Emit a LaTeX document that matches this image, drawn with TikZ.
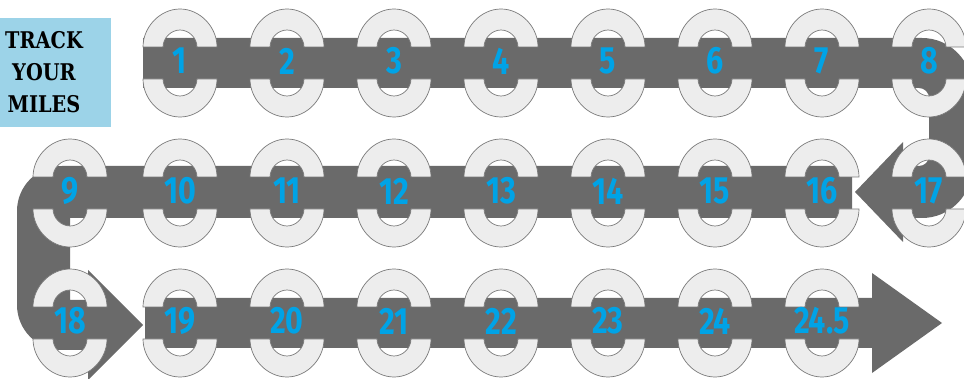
\documentclass[tikz,border=0pt]{standalone}
\usepackage{fontspec}
\newfontfamily\numfont[FakeStretch=0.8]{Fira Sans}
\newfontfamily\slabfont[FakeStretch=0.84]{DejaVu Serif}
\definecolor{bandgray}{HTML}{6A6A6A}
\definecolor{ringfill}{HTML}{EDEDED}
\definecolor{ringline}{HTML}{7A7A7A}
\definecolor{numblue}{HTML}{00A3E6}
\definecolor{boxblue}{HTML}{9CD3E8}
\begin{document}
\begin{tikzpicture}[x=1pt,y=-1pt]
            \tikzset{
                band/.style={fill=bandgray},
                mile/.style={fill=ringfill, draw=ringline, line width=0.7pt},
                num/.style={text=numblue, inner sep=0pt, font=\numfont\bfseries\fontsize{38}{38}\selectfont},
                titlebox/.style={fill=boxblue, minimum width=134pt, minimum height=109pt, inner sep=0pt, align=center, font=\slabfont\bfseries\fontsize{23}{32}\selectfont}
            }
            \useasboundingbox (0,0) rectangle (964,379);
            \node[titlebox] (title) at (44,72.5) {TRACK\\YOUR\\MILES};
            \fill[band] (143,38) -- (922,38) arc[start angle=270, end angle=360, radius=50] -- (972,168) arc[start angle=0, end angle=90, radius=50] -- (903,218) -- (903,242) -- (855,192) -- (903,142) -- (903,166) -- (919,166) arc[start angle=90, end angle=0, radius=10] -- (929,98) arc[start angle=0, end angle=-90, radius=10] -- (143,88) -- cycle;
            \fill[band] (852,166) -- (62,166) arc[start angle=270, end angle=180, radius=45] -- (17,305) arc[start angle=180, end angle=90, radius=45] -- (88,350) -- (88,380) -- (143,325) -- (88,270) -- (88,300) -- (70,300) -- (70,218) -- (852,218) -- cycle;
            \fill[band] (145,298) -- (872,298) -- (872,273) -- (942,323) -- (872,373) -- (872,348) -- (145,348) -- cycle;
            \foreach \x/\y/\n [count=\i] in {%
            180/63/1, 287/63/2, 394/63/3, 501/63/4, 608/63/5, 715/63/6, 822/63/7, 929/63/8,%
            70/193/9, 180/193/10, 287/193/11, 394/193/12, 501/193/13, 608/193/14, 715/193/15, 822/193/16, 929/193/17,%
            70/323/18, 180/323/19, 287/323/20, 394/323/21, 501/323/22, 608/323/23, 715/323/24, 822/323/24.5%
            }{
                \draw[mile] (\x-37,\y-16) .. controls (\x-37,\y-36) and (\x-20,\y-54) .. (\x,\y-54) .. controls (\x+20,\y-54) and (\x+37,\y-36) .. (\x+37,\y-16) -- (\x+17,\y-16) .. controls (\x+17,\y-25) and (\x+9,\y-33) .. (\x,\y-33) .. controls (\x-9,\y-33) and (\x-17,\y-25) .. (\x-17,\y-16) -- cycle;
                \draw[mile] (\x-37,\y+16) .. controls (\x-37,\y+36) and (\x-20,\y+54) .. (\x,\y+54) .. controls (\x+20,\y+54) and (\x+37,\y+36) .. (\x+37,\y+16) -- (\x+17,\y+16) .. controls (\x+17,\y+25) and (\x+9,\y+33) .. (\x,\y+33) .. controls (\x-9,\y+33) and (\x-17,\y+25) .. (\x-17,\y+16) -- cycle;
                \node[num] (m\i) at (\x,\y-2) {\n};
            }
        \end{tikzpicture}
\end{document}
